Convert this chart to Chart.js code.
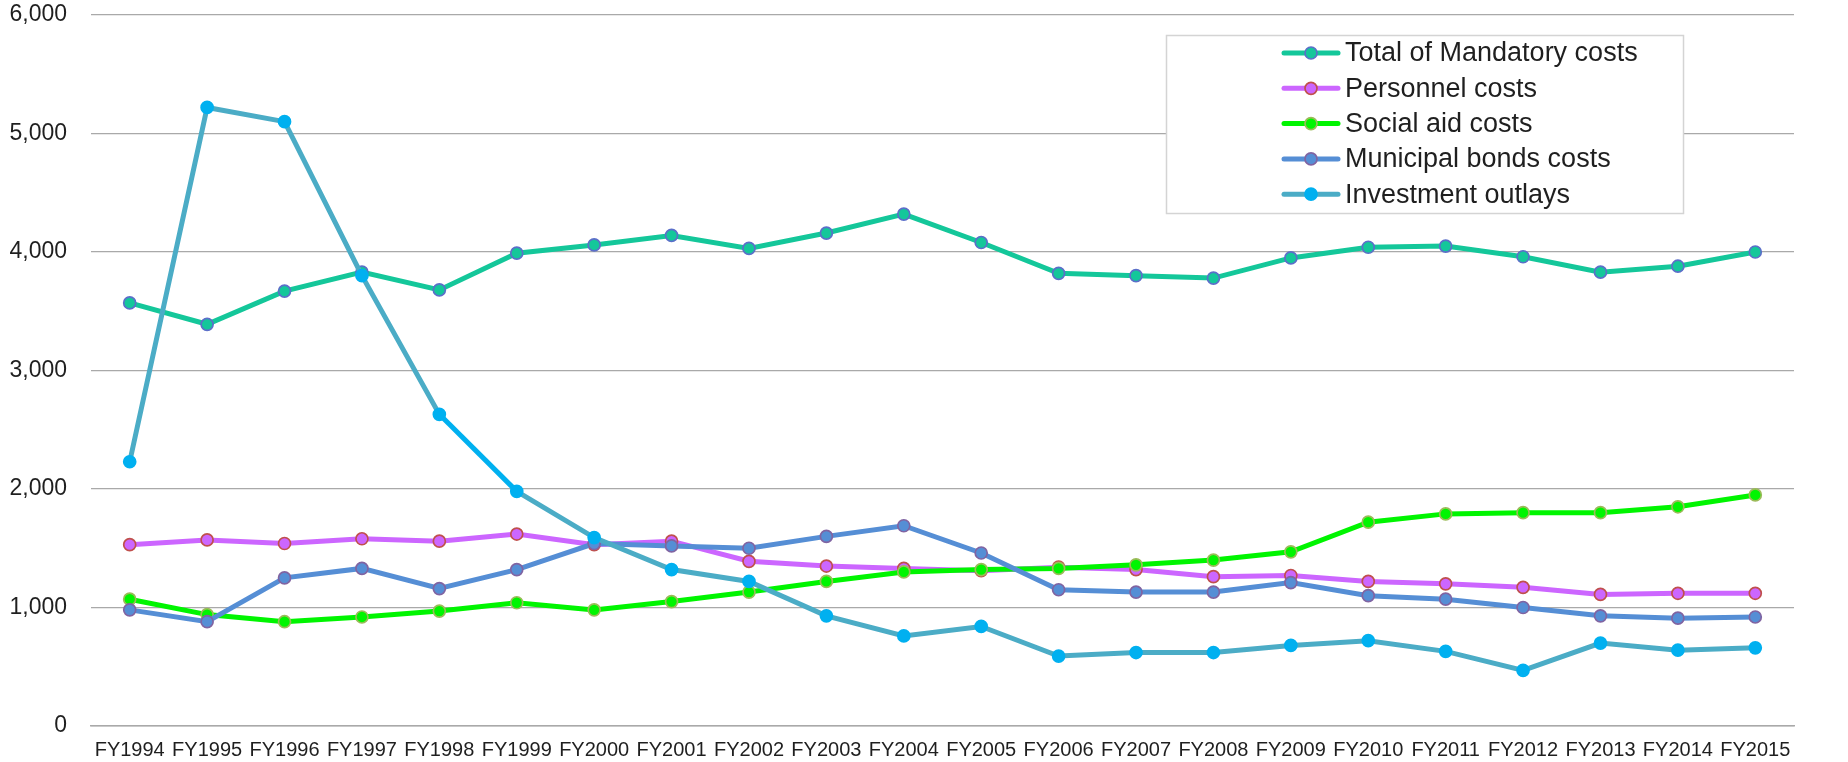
<!DOCTYPE html>
<html>
<head>
<meta charset="utf-8">
<title>Mandatory costs and investment outlays, FY1994–FY2015</title>
<script src="https://cdn.jsdelivr.net/npm/chart.js@4/dist/chart.umd.min.js"></script>
<style>
  html, body { margin: 0; padding: 0; background: #ffffff; }
  #wrap { position: relative; width: 1848px; height: 762px; }
</style>
</head>
<body>
<div id="wrap"><canvas id="chart"></canvas></div>
<script>
// Fiscal years on the category axis
const categories = ['FY1994','FY1995','FY1996','FY1997','FY1998','FY1999','FY2000','FY2001','FY2002','FY2003','FY2004',
                    'FY2005','FY2006','FY2007','FY2008','FY2009','FY2010','FY2011','FY2012','FY2013','FY2014','FY2015'];

// Series values
const totalMandatory = [3570,3390,3670,3830,3680,3990,4060,4140,4030,4160,4320,4080,3820,3800,3780,3950,4040,4050,3960,3830,3880,4000];
const personnelCosts = [1530,1570,1540,1580,1560,1620,1530,1560,1390,1350,1330,1310,1340,1320,1260,1270,1220,1200,1170,1110,1120,1120];
const socialAidCosts = [1070,940,880,920,970,1040,980,1050,1130,1220,1300,1320,1330,1360,1400,1470,1720,1790,1800,1800,1850,1950];
const municipalBonds = [980,880,1250,1330,1160,1320,1540,1520,1500,1600,1690,1460,1150,1130,1130,1210,1100,1070,1000,930,910,920];
const investmentOutlays = [2230,5220,5100,3800,2630,1980,1590,1320,1220,930,760,840,590,620,620,680,720,630,470,700,640,660];

// Value axis ticks
const yTicks = [0,1000,2000,3000,4000,5000,6000];

const FONT = "'Liberation Sans', Arial, sans-serif";
const TEXT = '#1f1f1f';
const GRID = '#a9a9a9';

function series(label, data, line, fill, edge, order) {
  return {
    label, data, order,
    borderColor: line,
    backgroundColor: line,
    borderWidth: 5,
    pointRadius: 6,
    pointBackgroundColor: fill,
    pointBorderColor: edge,
    pointBorderWidth: 1.7,
    tension: 0,
    fill: false
  };
}

const datasets = [
  series('Total of Mandatory costs', totalMandatory, '#14c79a', '#14c79a', '#5b6fc9', 4),
  series('Personnel costs', personnelCosts, '#cc66ff', '#cc66ff', '#c0504d', 3),
  series('Social aid costs', socialAidCosts, '#00f500', '#00f500', '#9bbb59', 2),
  series('Municipal bonds costs', municipalBonds, '#558ed5', '#558ed5', '#8064a2', 1),
  series('Investment outlays', investmentOutlays, '#4bacc6', '#00b0f0', '#00b0f0', 0)
];
// FY1998 -> FY1999 segment of the investment line is drawn in the brighter blue
datasets[4].segment = { borderColor: c => (c.p0DataIndex === 4 ? '#00b0f0' : undefined) };

// Boxed legend drawn over the upper right of the plot
const boxedLegend = {
  id: 'boxedLegend',
  afterDraw(chart) {
    const ctx = chart.ctx;
    const bx = 1166.5, by = 35.5, bw = 517, bh = 178;
    ctx.save();
    ctx.fillStyle = '#ffffff';
    ctx.fillRect(bx, by, bw, bh);
    ctx.strokeStyle = '#d4d4d4';
    ctx.lineWidth = 1.5;
    ctx.strokeRect(bx, by, bw, bh);
    chart.data.datasets.forEach((ds, i) => {
      const y = 53 + i * 35.3;
      ctx.beginPath();
      ctx.moveTo(1284, y);
      ctx.lineTo(1338, y);
      ctx.strokeStyle = ds.borderColor;
      ctx.lineWidth = 5;
      ctx.lineCap = 'round';
      ctx.stroke();
      ctx.beginPath();
      ctx.arc(1311, y, 6, 0, Math.PI * 2);
      ctx.fillStyle = ds.pointBackgroundColor;
      ctx.fill();
      ctx.strokeStyle = ds.pointBorderColor;
      ctx.lineWidth = 1.7;
      ctx.stroke();
      ctx.fillStyle = TEXT;
      ctx.font = '27px ' + FONT;
      ctx.textBaseline = 'middle';
      ctx.textAlign = 'left';
      ctx.fillText(ds.label, 1345, y + 1);
    });
    ctx.restore();
  }
};

new Chart(document.getElementById('chart'), {
  type: 'line',
  data: { labels: categories, datasets },
  plugins: [boxedLegend],
  options: {
    responsive: true,
    maintainAspectRatio: false,
    animation: false,
    layout: { padding: { top: 15, right: 54, left: 0, bottom: 0 } },
    plugins: { legend: { display: false }, tooltip: { enabled: false } },
    scales: {
      x: {
        offset: true,
        grid: { display: false, drawTicks: false },
        border: { display: true, color: GRID, width: 1.5 },
        ticks: { autoSkip: false, maxRotation: 0, minRotation: 0, padding: 12,
                 color: TEXT, font: { family: FONT, size: 20 } },
        afterFit(scale) { scale.height = 36; scale.paddingLeft = 0; scale.paddingRight = 0; }
      },
      y: {
        min: yTicks[0],
        max: yTicks[yTicks.length - 1],
        afterBuildTicks(scale) { scale.ticks = yTicks.map(v => ({ value: v })); },
        grid: { color: GRID, lineWidth: 1.3, drawTicks: false },
        border: { display: false },
        ticks: { padding: 24, color: TEXT, font: { family: FONT, size: 23 },
                 callback: v => v.toLocaleString('en-US') },
        afterFit(scale) { scale.width = 91; scale.paddingTop = 0; scale.paddingBottom = 0; }
      }
    }
  }
});
</script>
</body>
</html>
